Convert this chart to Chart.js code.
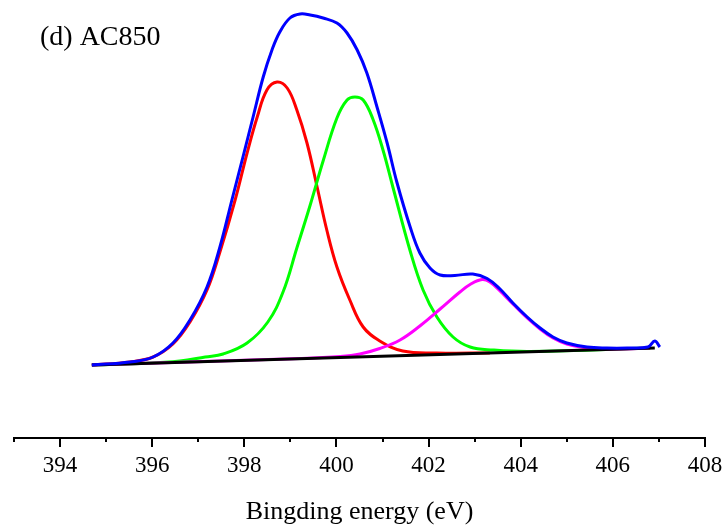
<!DOCTYPE html>
<html lang="en">
  <head>
    <meta charset="UTF-8" />
    <title>N1s AC850</title>
    <script src="https://cdn.jsdelivr.net/npm/chart.js@4.4.0/dist/chart.umd.min.js"></script>
    <style>
      body { margin: 0; background: #fff; }
    </style>
  </head>
  <body>
    <canvas id="myChart" width="728" height="532"></canvas>

    <script>
      // binding energy (eV) and intensity (a.u.)
      const envE = [394.69, 395.52, 396.02, 396.45, 396.82, 397.19, 397.47, 397.73, 397.97, 398.19, 398.41, 398.60, 398.77, 398.99, 399.21, 399.43, 399.71, 400.01, 400.23, 400.45, 400.66, 400.88, 401.10, 401.31, 401.60, 401.81, 402.03, 402.25, 402.57, 402.96, 403.27, 403.55, 403.83, 404.14, 404.42, 404.70, 405.00, 405.44, 405.87, 406.31, 406.76, 406.91, 407.02];
      const envI = [73, 76, 81, 95, 118, 151, 191, 238, 281, 321, 361, 388, 406, 420, 424, 423, 420, 415, 405, 388, 365, 331, 295, 256, 211, 185, 170, 163, 162.5, 164, 159.5, 149, 135, 121, 110, 101, 95, 91, 90, 90, 91, 97, 91];

      const redE = [394.69, 395.52, 396.02, 396.45, 396.82, 397.19, 397.47, 397.80, 398.06, 398.28, 398.49, 398.71, 398.93, 399.14, 399.36, 399.58, 399.79, 400.01, 400.29, 400.58, 400.94, 401.44, 402.18, 403.33];
      const redI = [73, 76, 81, 94, 116, 148, 186, 238, 285, 321, 348, 356, 350, 328, 295, 251, 208, 171, 138, 111, 97, 87, 85, 85];

      const greenE = [394.69, 395.74, 396.60, 397.15, 397.54, 398.06, 398.51, 398.84, 399.14, 399.43, 399.71, 400.01, 400.23, 400.40, 400.58, 400.79, 401.01, 401.23, 401.60, 401.88, 402.18, 402.53, 402.90, 403.40, 404.20, 406.81];
      const greenI = [73, 74.5, 77, 81, 84, 95, 116, 146, 190, 233, 277, 320, 338, 341, 338, 319, 288, 250, 187, 148, 121, 101, 91, 88, 86.5, 90];

      const pinkE = [394.69, 399.21, 400.08, 400.51, 400.94, 401.38, 401.81, 402.25, 402.68, 402.90, 403.16, 403.33, 403.55, 403.83, 404.14, 404.42, 404.70, 405.00, 405.44, 405.72, 406.81];
      const pinkI = [73, 79.5, 81.5, 84, 89.5, 98, 112, 129, 146, 153.5, 158.5, 156, 147, 134, 120, 109, 100, 94, 90, 88.5, 90];

      const baseE = [394.69, 406.91];
      const baseI = [73, 90];

      const xMin = 393;
      const xMax = 408;

      function pts(xs, ys) {
        return xs.map((x, i) => ({ x: x, y: ys[i] }));
      }

      function line(label, xs, ys, color) {
        return {
          label: label,
          data: pts(xs, ys),
          borderColor: color,
          backgroundColor: color,
          borderWidth: 3,
          pointRadius: 0,
          fill: false,
          tension: 0.4
        };
      }

      // minor / major tick marks hanging under the axis line
      const tickMarks = {
        id: 'tickMarks',
        afterDraw(chart) {
          const sc = chart.scales.x;
          const ctx = chart.ctx;
          ctx.save();
          ctx.strokeStyle = '#000';
          ctx.lineWidth = 2;
          for (let v = xMin; v <= xMax; v++) {
            const px = Math.round(sc.getPixelForValue(v));
            const len = v % 2 === 0 ? 9 : 4;
            ctx.beginPath();
            ctx.moveTo(px, sc.top);
            ctx.lineTo(px, sc.top + len);
            ctx.stroke();
          }
          ctx.restore();
        }
      };

      const sampleLabel = {
        id: 'sampleLabel',
        afterDraw(chart) {
          const ctx = chart.ctx;
          ctx.save();
          ctx.fillStyle = '#000';
          ctx.font = '28px "Liberation Serif", "Times New Roman", serif';
          ctx.textBaseline = 'middle';
          ctx.fillText('(d) AC850', 40, 38);
          ctx.restore();
        }
      };

      const ctx = document.getElementById('myChart').getContext('2d');
      const myChart = new Chart(ctx, {
        type: 'line',
        data: {
          datasets: [
            line('Envelope', envE, envI, '#0000ff'),
            line('Background', baseE, baseI, '#000000'),
            line('Peak 4', pinkE, pinkI, '#ff00ff'),
            line('Peak 3', greenE, greenI, '#00ff00'),
            line('Peak 1', redE, redI, '#ff0000')
          ]
        },
        options: {
          responsive: false,
          animation: false,
          layout: { padding: { left: 14, right: 23, top: 0, bottom: 0 } },
          plugins: {
            legend: { display: false },
            tooltip: { enabled: false }
          },
          scales: {
            x: {
              type: 'linear',
              min: xMin,
              max: xMax,
              grid: { display: false, drawTicks: false },
              border: { display: true, color: '#000', width: 2 },
              ticks: {
                stepSize: 1,
                autoSkip: false,
                maxRotation: 0,
                padding: 14,
                color: '#000',
                font: { family: '"Liberation Serif", "Times New Roman", serif', size: 23 },
                callback: v => (v % 2 === 0 ? String(v) : '')
              },
              title: {
                display: true,
                text: 'Bingding energy (eV)',
                color: '#000',
                font: { family: '"Liberation Serif", "Times New Roman", serif', size: 26 },
                padding: { top: 0, bottom: 4 }
              },
              afterFit(scale) {
                scale.height = 94;
                scale.paddingLeft = 0;
                scale.paddingRight = 0;
              }
            },
            y: {
              display: false,
              min: 0,
              max: 438
            }
          }
        },
        plugins: [tickMarks, sampleLabel]
      });
    </script>
  </body>
</html>
